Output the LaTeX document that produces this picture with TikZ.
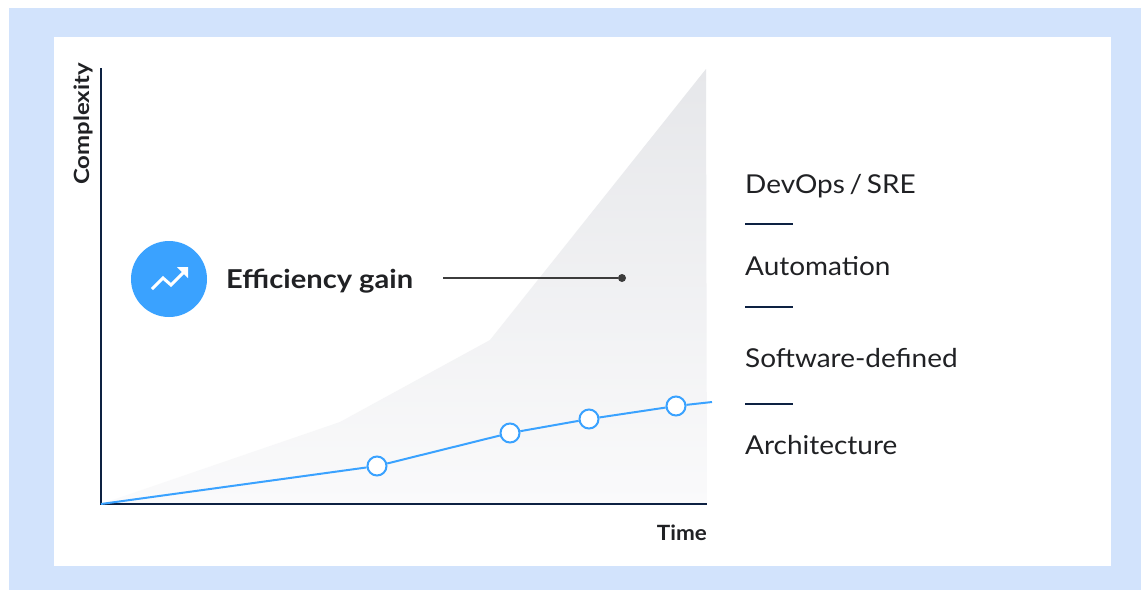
\documentclass[tikz,border=0pt]{standalone}
\usepackage{fontspec}
\setmainfont{Lato}
\newfontfamily\legfont[FakeStretch=1.075]{Lato}
\newfontfamily\egfont[FakeStretch=1.12]{Lato}
\newfontfamily\cxfont[FakeStretch=1.14]{Lato}
\newfontfamily\tmfont[FakeStretch=1.07]{Lato}
\usetikzlibrary{shapes.geometric}
\definecolor{bgblue}{HTML}{D2E3FC}
\definecolor{navy}{HTML}{0D2142}
\definecolor{lineblue}{HTML}{3AA2FF}
\definecolor{txt}{HTML}{202124}
\definecolor{graytop}{HTML}{E6E7EA}
\definecolor{graybot}{HTML}{FAFAFB}
\definecolor{dgray}{HTML}{3C3C3C}
\tikzset{
  axisline/.style={navy, line width=2},
  pt/.style={circle, draw=lineblue, fill=white, line width=2, minimum size=19, inner sep=0},
  legend/.style={anchor=base west, text=txt, font=\legfont\fontsize{26}{30}\selectfont, inner sep=0},
  sep/.style={navy, line width=2},
  axlabel/.style={text=txt, inner sep=0},
}
\begin{document}
\begin{tikzpicture}[x=1pt, y=-1pt]
\useasboundingbox (0,0) rectangle (1141,590);
\fill[bgblue] (9,8) rectangle (1141,590);
\fill[white] (54,37) rectangle (1111,566);
% shaded complexity area
\shade[top color=graytop, bottom color=graybot] (101,504) -- (340,422) -- (490,340) -- (706,69) -- (707,504) -- cycle;
% axes
\coordinate (O) at (101,504);
\coordinate (ytop) at (101,68);
\coordinate (xend) at (707,504);
\draw[axisline] (ytop) -- (O) -- (xend);
\node[axlabel, font=\cxfont\bfseries\fontsize{21}{25}\selectfont, rotate=90, anchor=base west] (cl) at (89,185) {Complexity};
\node[axlabel, font=\tmfont\bfseries\fontsize{21}{25}\selectfont, anchor=base east] (tl) at (707,540) {Time};
% blue line
\node[pt] (p1) at (377,466) {};
\node[pt] (p2) at (510,433) {};
\node[pt] (p3) at (589,419) {};
\node[pt] (p4) at (676,406) {};
\coordinate (pend) at (712,402);
\draw[lineblue, line width=2] (O) -- (p1) -- (p2) -- (p3) -- (p4) -- (pend);
% efficiency gain
\node[circle, fill=lineblue, minimum size=76, inner sep=0] (icon) at (169,279) {};
\begin{scope}[shift={(icon.center)}]
  \draw[white, line width=3] (-17,10) -- (-6,-1) -- (2,6) -- (15,-7);
  \fill[white] (19,-12) -- (8,-12) -- (19,-1) -- cycle;
\end{scope}
\node[anchor=base west, text=txt, font=\egfont\bfseries\fontsize{26}{30}\selectfont, inner sep=0] (eg) at (226,288) {Efficiency gain};
\node[circle, fill=dgray, minimum size=8, inner sep=0] (dot) at (622,278) {};
\coordinate (lstart) at (443,278);
\draw[dgray, line width=2] (lstart) -- (dot);
% legend
\node[legend] (l1) at (745,193) {DevOps\hspace{-2.5pt} /\hspace{-2.5pt} SRE};
\node[legend] (l2) at (745,275) {Automation};
\node[legend] (l3) at (745,367) {Software-defined};
\node[legend] (l4) at (745,454) {Architecture};
\coordinate (s1a) at (745,224); \coordinate (s1b) at (793,224);
\coordinate (s2a) at (745,307); \coordinate (s2b) at (793,307);
\coordinate (s3a) at (745,404); \coordinate (s3b) at (793,404);
\draw[sep] (s1a) -- (s1b);
\draw[sep] (s2a) -- (s2b);
\draw[sep] (s3a) -- (s3b);
\end{tikzpicture}
\end{document}
